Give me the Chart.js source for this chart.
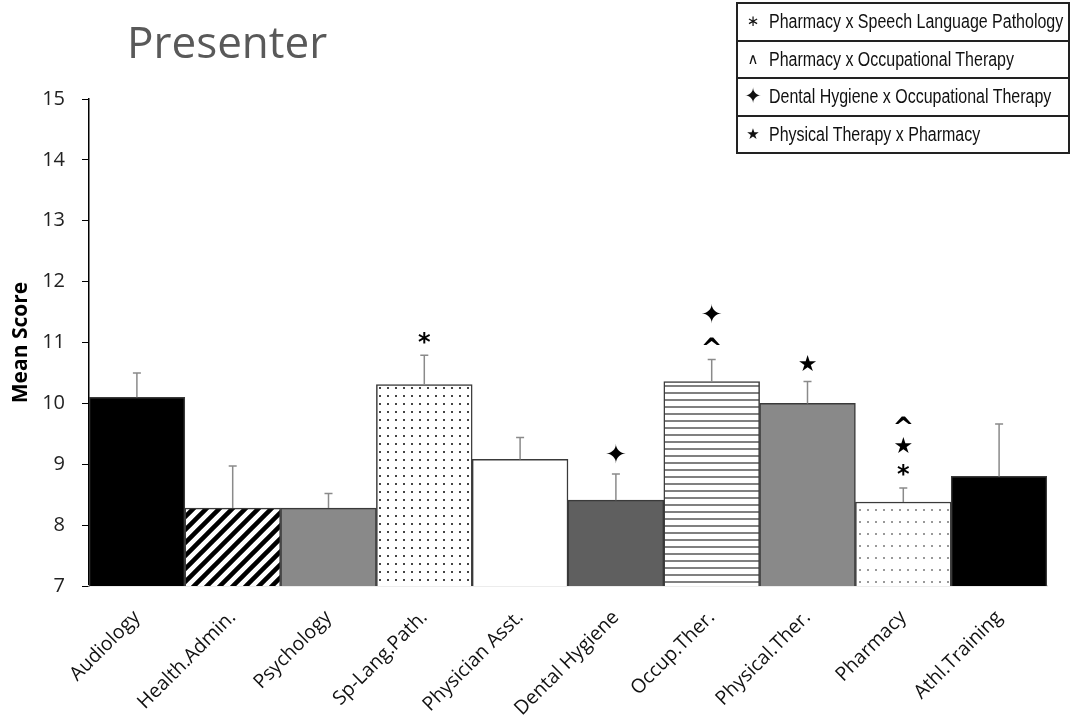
<!DOCTYPE html>
<html>
<head>
<meta charset="utf-8">
<script src="https://cdn.jsdelivr.net/npm/chart.js@4"></script>
<style>
    html, body { margin: 0; padding: 0; background: #fff; }
    #wrap { position: relative; width: 1077px; height: 717px; }
    #title {
        position: absolute; left: 127px; top: 11px;
        font: 44px "Open Sans", sans-serif; color: #595959;
    }
    #key {
        position: absolute; left: 736px; top: 2px; width: 334px;
        font: 19.5px "Liberation Sans", sans-serif; color: #111;
    }
    #key div {
        border: 2px solid #222; height: 35.5px; line-height: 35px;
        padding-left: 4px; white-space: nowrap; margin-top: -2px; overflow: hidden;
    }
    #key div:first-child { margin-top: 0; }
    #key span { display: inline-block; width: 22px; text-align: center; font-family: "DejaVu Sans", sans-serif; font-size: 15px; vertical-align: top; }
    #key em { font-style: normal; display: inline-block; transform: scaleX(0.82); transform-origin: left center; }
</style>
</head>
<body>
<div id="wrap">
    <canvas id="chart" width="1077" height="717"></canvas>
    <div id="title">Presenter</div>
    <div id="key">
        <div><span>∗</span> <em>Pharmacy x Speech Language Pathology</em></div>
        <div><span>∧</span> <em>Pharmacy x Occupational Therapy</em></div>
        <div><span style="font-size:21px">✦</span> <em>Dental Hygiene x Occupational Therapy</em></div>
        <div><span>★</span> <em>Physical Therapy x Pharmacy</em></div>
    </div>
</div>
<script>
// ========== DATA ==========
const categories = ['Audiology', 'Health.Admin.', 'Psychology', 'Sp-Lang.Path.', 'Physician Asst.',
    'Dental Hygiene', 'Occup.Ther.', 'Physical.Ther.', 'Pharmacy', 'Athl.Training'];
const meanScores = [10.1, 8.28, 8.28, 10.31, 9.08, 8.41, 10.36, 10.0, 8.38, 8.8];
const errorTops = [10.5, 8.97, 8.52, 10.79, 9.44, 8.84, 10.72, 10.36, 8.61, 9.66];
const sigMarks = [[], [], [], ['*'], [], ['✦'], ['^', '✦'], ['★'], ['*', '★', '^'], []];
const yTicks = [7, 8, 9, 10, 11, 12, 13, 14, 15];

// ========== PATTERNS ==========
const Patterns = {
    tile: (w, h, draw) => {
        const c = document.createElement('canvas');
        c.width = w; c.height = h;
        const g = c.getContext('2d');
        g.fillStyle = '#fff';
        g.fillRect(0, 0, w, h);
        draw(g);
        return document.getElementById('chart').getContext('2d').createPattern(c, 'repeat');
    },
    stripes: () => Patterns.tile(13, 13, (g) => {
        g.strokeStyle = '#000';
        g.lineWidth = 4.5;
        g.beginPath();
        g.moveTo(-3, 16); g.lineTo(16, -3);
        g.moveTo(-16, 16); g.lineTo(3, -3);
        g.moveTo(10, 16); g.lineTo(29, -3);
        g.stroke();
    }),
    dots: (sx, sy, color) => Patterns.tile(sx, sy, (g) => {
        g.fillStyle = color;
        g.fillRect(sx / 2 - 1, sy / 2 - 1, 2, 2);
    }),
    hlines: () => Patterns.tile(8, 7.7, (g) => {
        g.fillStyle = '#808080';
        g.fillRect(0, 0, 8, 2);
    })
};

const fills = ['#000', Patterns.stripes(), '#898989', Patterns.dots(8, 8, '#444'), '#fff',
    '#5f5f5f', Patterns.hlines(), '#898989', Patterns.dots(8, 12, '#999'), '#000'];

// ========== PLUGINS ==========
const errorBarPlugin = {
    id: 'errorBars',
    afterDatasetsDraw(chart) {
        const { ctx, scales: { y } } = chart;
        const meta = chart.getDatasetMeta(0);
        ctx.save();
        ctx.strokeStyle = '#8a8a8a';
        ctx.lineWidth = 1.5;
        meta.data.forEach((bar, i) => {
            const top = y.getPixelForValue(errorTops[i]);
            ctx.beginPath();
            ctx.moveTo(bar.x, bar.y);
            ctx.lineTo(bar.x, top);
            ctx.moveTo(bar.x - 4, top);
            ctx.lineTo(bar.x + 4, top);
            ctx.stroke();
        });
        ctx.restore();
    }
};

const sigPlugin = {
    id: 'sigMarks',
    afterDatasetsDraw(chart) {
        const { ctx, scales: { y } } = chart;
        const meta = chart.getDatasetMeta(0);
        ctx.save();
        ctx.fillStyle = '#000';
        ctx.textAlign = 'center';
        ctx.textBaseline = 'middle';
        meta.data.forEach((bar, i) => {
            let pos = y.getPixelForValue(errorTops[i]) - 16;
            sigMarks[i].forEach((m) => {
                if (m === '*') {
                    ctx.font = 'bold 24px "DejaVu Sans"';
                    ctx.fillText('*', bar.x, pos + 4);
                } else if (m === '^') {
                    ctx.font = 'bold 26px "DejaVu Sans"';
                    ctx.fillText('^', bar.x, pos + 7);
                } else if (m === '✦') {
                    ctx.font = '26px "DejaVu Sans"';
                    ctx.fillText('✦', bar.x, pos - 2);
                } else {
                    ctx.font = '22px "DejaVu Sans"';
                    ctx.fillText('★', bar.x, pos);
                }
                pos -= 25;
            });
        });
        ctx.restore();
    }
};

// ========== CHART ==========
new Chart(document.getElementById('chart'), {
    type: 'bar',
    data: {
        labels: categories,
        datasets: [{
            data: meanScores,
            backgroundColor: fills,
            borderColor: '#3a3a3a',
            borderWidth: 1.5,
            categoryPercentage: 1,
            barPercentage: 1
        }]
    },
    options: {
        responsive: false,
        animation: false,
        layout: { padding: { top: 99, right: 30, left: 0, bottom: 0 } },
        plugins: { legend: { display: false }, tooltip: { enabled: false } },
        scales: {
            y: {
                min: 7,
                max: 15,
                afterBuildTicks: (scale) => { scale.ticks = yTicks.map((v) => ({ value: v })); },
                afterFit: (scale) => { scale.width = 89; },
                grid: { drawOnChartArea: false, drawTicks: true, tickLength: 7, color: '#000' },
                border: { color: '#000', width: 1.5 },
                ticks: { color: '#222', font: { size: 20, family: 'Open Sans' }, padding: 17 },
                title: {
                    display: true, text: 'Mean Score', color: '#000',
                    font: { size: 21, weight: 'bold', family: 'Open Sans' }, padding: { top: 8, bottom: 0 }
                }
            },
            x: {
                afterFit: (scale) => { scale.height = 131; },
                grid: { display: false },
                border: { color: '#d9d9d9', width: 1.5 },
                ticks: {
                    color: '#111', maxRotation: 45, minRotation: 45, padding: 12,
                    font: { size: 19.5, family: 'Open Sans' }
                }
            }
        }
    },
    plugins: [errorBarPlugin, sigPlugin]
});
</script>
</body>
</html>
